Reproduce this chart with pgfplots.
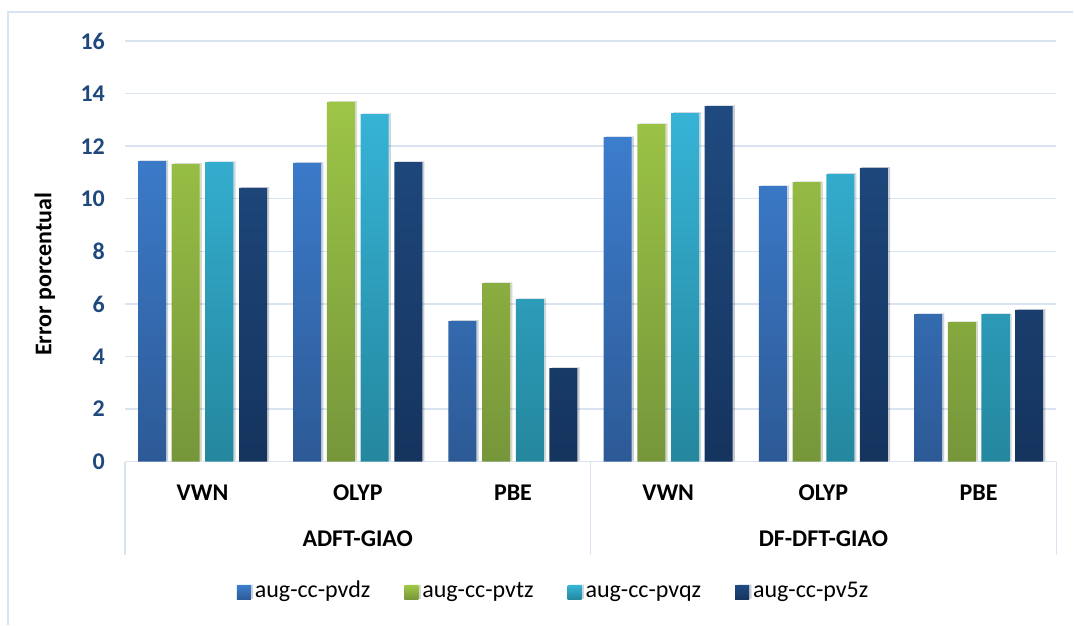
\documentclass[border=0pt]{standalone}
\usepackage{pgfplots}
\pgfplotsset{compat=1.18}
\usetikzlibrary{shadows}
\usepackage{fontspec}
\setmainfont{Carlito}
\definecolor{gridc}{HTML}{D9E3F1}
\definecolor{tickc}{HTML}{1F497D}
\definecolor{aT}{HTML}{3C7DCD}\definecolor{aB}{HTML}{2D5A96}
\definecolor{bT}{HTML}{9DC546}\definecolor{bB}{HTML}{76963A}
\definecolor{cT}{HTML}{36B3D6}\definecolor{cB}{HTML}{24879E}
\definecolor{dT}{HTML}{1F4A80}\definecolor{dB}{HTML}{15345E}
\newcommand\f{\fontsize{12}{14.4}\selectfont}
\begin{document}
\begin{tikzpicture}[x=1pt,y=1pt]
\path (0,0) rectangle (537,312.5);
\draw[gridc, line width=0.75pt] (4,0) -- (4,306.5) -- (537,306.5);
\begin{axis}[
  at={(62.5pt,81.5pt)}, anchor=south west,
  width=466pt, height=210.5pt, scale only axis,
  ymin=0, ymax=16, ytick={0,2,...,16},
  xmin=-0.5, xmax=5.5, xtick={0,...,5},
  xticklabels={VWN,OLYP,PBE,VWN,OLYP,PBE},
  ybar=2.85pt, bar width=14pt,
  axis line style={draw=none},
  major tick length=0pt,
  ymajorgrids, grid style={gridc, line width=0.75pt},
  clip=false,
  /pgf/number format/assume math mode=true,
  yticklabel style={font=\f\bfseries, text=tickc, anchor=east, xshift=-6.5pt},
  xticklabel style={font=\f\bfseries, anchor=center, yshift=-15.5pt},
  legend style={draw=none, at={(axis description cs:0.4614,-0.3112)}, anchor=center,
    legend columns=4, font=\f, nodes={text height=0.7em, text depth=0.22em},
    /tikz/every even column/.append style={column sep=15pt}},
  legend image code/.code={\path[#1,draw=none] (0pt,-3.5pt) rectangle (7pt,3.5pt);},
  every axis plot/.append style={draw=none, drop shadow={shadow xshift=1.1pt, shadow yshift=0.4pt, fill=black, opacity=0.12}},
]
\addplot[top color=aT, bottom color=aB] coordinates {(0,11.43) (1,11.36) (2,5.35) (3,12.34) (4,10.48) (5,5.61)};
\addplot[top color=bT, bottom color=bB] coordinates {(0,11.32) (1,13.68) (2,6.79) (3,12.84) (4,10.63) (5,5.31)};
\addplot[top color=cT, bottom color=cB] coordinates {(0,11.39) (1,13.22) (2,6.18) (3,13.26) (4,10.94) (5,5.61)};
\addplot[top color=dT, bottom color=dB] coordinates {(0,10.41) (1,11.39) (2,3.56) (3,13.52) (4,11.17) (5,5.77)};
\legend{aug-cc-pvdz,aug-cc-pvtz,aug-cc-pvqz,aug-cc-pv5z}
\draw[gridc, line width=0.75pt] (rel axis cs:0,0) -- ([yshift=-46.5pt]rel axis cs:0,0);
\draw[gridc, line width=0.75pt] (rel axis cs:0.5,0) -- ([yshift=-46.5pt]rel axis cs:0.5,0);
\draw[gridc, line width=0.75pt] (rel axis cs:1,0) -- ([yshift=-46.5pt]rel axis cs:1,0);
\node[font=\f\bfseries, yshift=-38.5pt] at (axis cs:1,0) {ADFT-GIAO};
\node[font=\f\bfseries, yshift=-38.5pt] at (axis cs:4,0) {DF-DFT-GIAO};
\end{axis}
\node[rotate=90, font=\f\bfseries] at (22.5,175.2) {Error porcentual};
\end{tikzpicture}
\end{document}
